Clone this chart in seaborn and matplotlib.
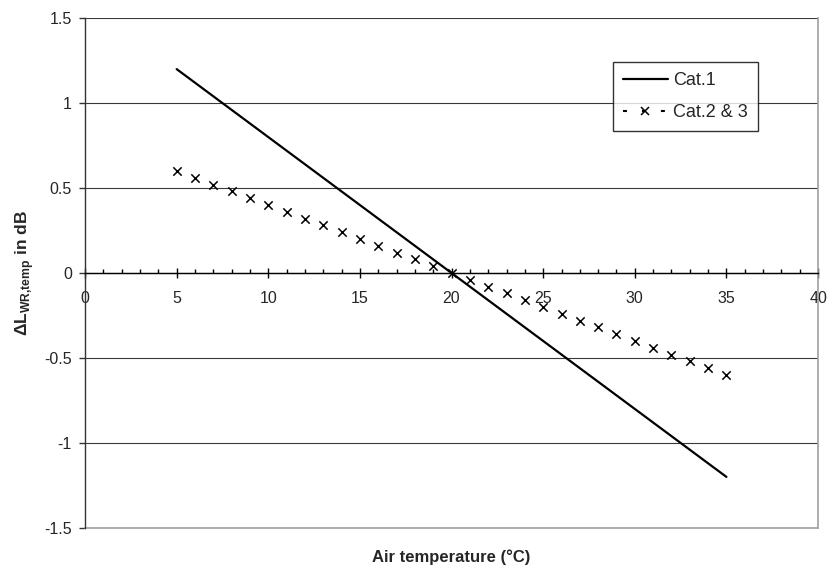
#%% IMPORTING MODULES

import numpy as np
import pandas as pd
import seaborn as sns
import matplotlib.pyplot as plt
from matplotlib.ticker import MultipleLocator, FuncFormatter
from matplotlib.lines import Line2D

#%% DATA

# Cat.1 is a straight line from 5 to 35 degrees
cat1_temp = [5, 35]
cat1_dl = [1.2, -1.2]

# Cat.2 & 3 is given point by point for every degree
cat23_temp = [5, 6, 7, 8, 9, 10, 11, 12, 13, 14, 15, 16, 17, 18, 19, 20,
              21, 22, 23, 24, 25, 26, 27, 28, 29, 30, 31, 32, 33, 34, 35]
cat23_dl = [0.60, 0.56, 0.52, 0.48, 0.44, 0.40, 0.36, 0.32, 0.28, 0.24, 0.20,
            0.16, 0.12, 0.08, 0.04, 0.00, -0.04, -0.08, -0.12, -0.16, -0.20,
            -0.24, -0.28, -0.32, -0.36, -0.40, -0.44, -0.48, -0.52, -0.56, -0.60]

series_labels = ['Cat.1', 'Cat.2 & 3']

#%% STYLE

sns.set_style('white')
plt.rcParams['font.family'] = ['Liberation Sans', 'DejaVu Sans']
plt.rcParams['axes.unicode_minus'] = False
plt.rcParams['mathtext.fontset'] = 'custom'
plt.rcParams['mathtext.rm'] = 'Liberation Sans'
plt.rcParams['mathtext.bf'] = 'Liberation Sans:bold'

fig = plt.figure(figsize=(8.28, 5.67), dpi=100)
ax = fig.add_axes([0.1027, 0.069, 0.8853, 0.899])

#%% PLOTTING

sns.lineplot(x=cat1_temp, y=cat1_dl, ax=ax, color='black', linewidth=1.6, zorder=4)
sns.scatterplot(x=cat23_temp, y=cat23_dl, ax=ax, marker='x', color='black',
                s=36, linewidth=1.1, zorder=5)

ax.set_xlim(0, 40)
ax.set_ylim(-1.5, 1.5)

ax.xaxis.set_major_locator(MultipleLocator(5))
ax.xaxis.set_minor_locator(MultipleLocator(1))
ax.yaxis.set_major_locator(MultipleLocator(0.5))
fmt = FuncFormatter(lambda v, p: '{:g}'.format(round(v, 2)))
ax.xaxis.set_major_formatter(fmt)
ax.yaxis.set_major_formatter(fmt)

# horizontal gridlines only, like the Excel original
ax.yaxis.grid(True, color='#3a3a3a', linewidth=0.8)
ax.xaxis.grid(False)

# x axis runs through zero
ax.spines['bottom'].set_position(('data', 0))
ax.spines['bottom'].set_color('black')
ax.spines['bottom'].set_linewidth(1.0)
ax.spines['left'].set_color('#333333')
ax.spines['left'].set_linewidth(1.0)
ax.spines['right'].set_color('#a0a0a0')
ax.spines['right'].set_linewidth(1.2)
ax.spines['top'].set_visible(False)
# grey plot-area border at the bottom
ax.axhline(-1.5, color='#a0a0a0', linewidth=1.2, clip_on=False, zorder=1)

ax.tick_params(axis='x', which='major', direction='inout', length=6.5,
               width=1, color='black', pad=10, labelsize=11.5, bottom=True)
ax.tick_params(axis='x', which='minor', direction='in', length=3,
               width=1, color='black', bottom=True)
ax.tick_params(axis='y', which='major', direction='out', length=4.5,
               width=1, color='#333333', pad=5, labelsize=11.5, left=True)

ax.set_xlabel('')
ax.set_ylabel('')
fig.text(0.545, 0.017, 'Air temperature (°C)', ha='center', va='center',
         fontsize=12, fontweight='bold')
fig.text(0.03, 0.518, r'$\mathbf{\Delta L}_{\mathbf{WR{,}temp}}$ in dB', ha='center',
         va='center', rotation=90, fontsize=12.5, fontweight='bold')

#%% LEGEND

handles = [Line2D([], [], color='black', linewidth=1.6),
           Line2D([], [], color='black', linewidth=1.5, linestyle=(0, (1.9, 7.2)),
                  marker='x', markersize=6, markeredgewidth=1.1)]
leg = ax.legend(handles, series_labels, loc='upper right',
                bbox_to_anchor=(0.918, 0.914), borderaxespad=0,
                fontsize=13, frameon=True, fancybox=False, handlelength=2.5,
                handletextpad=0.3, borderpad=0.55, labelspacing=0.85)
leg.get_frame().set_edgecolor('black')
leg.get_frame().set_linewidth(1.0)
leg.set_zorder(10)

plt.savefig('out.png', dpi=100)
